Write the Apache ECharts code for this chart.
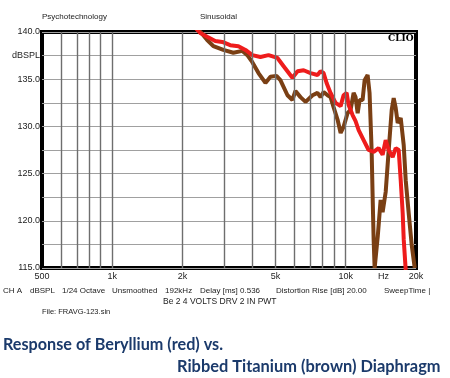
<!DOCTYPE html>
<html>
<head>
<meta charset="utf-8">
<script src="https://cdn.jsdelivr.net/npm/echarts@6/dist/echarts.min.js"></script>
<style>
  html, body { margin: 0; padding: 0; background: #fff; }
  #chart { width: 450px; height: 378px; }
</style>
</head>
<body>
<div id="chart"></div>
<script>
// x ticks (Hz) and their labels
const xTickFreqs = [500, 1000, 2000, 5000, 10000, 14500, 20000]
const xTickLabels = ['500', '1k', '2k', '5k', '10k', 'Hz', '20k']
// vertical grid lines
const gridFreqs = [600, 700, 800, 900, 1000, 2000, 3000, 4000, 5000, 6000, 7000, 8000, 9000, 10000]
// y ticks
const yTickValues = [115, 120, 125, 130, 135, 137.5, 140]
const yTickLabels = ['115.0', '120.0', '125.0', '130.0', '135.0', 'dBSPL', '140.0']

// Beryllium (red)
const redFreq = [2200, 2380, 2550, 2760, 2960, 3200, 3470, 3720, 3980, 4310, 4670, 5100, 5410, 5910, 6220,
  6600, 7070, 7570, 7800, 8040, 8280, 8610, 9050, 9510, 9790, 10090, 10280, 10700, 11020, 11360,
  11930, 12530, 13170, 13830, 14390, 14830, 15280, 15890, 16370, 16860, 17200, 17540, 17720, 18070]
const redDb = [140.8, 139.9, 139.5, 139.05, 138.95, 138.6, 138.5, 138.1, 137.55, 137.35, 137.55, 137.25, 136.4, 135.15, 135.85,
  135.95, 135.65, 135.45, 135.85, 135.65, 134.6, 133.55, 132.5, 132.15, 133.3, 133.55, 132.3, 131.2, 130.55, 129.6,
  128.55, 127.5, 127.3, 127.7, 127.0, 128.55, 127.5, 126.75, 127.7, 127.5, 124.3, 120.8, 118.0, 114.8]

// Ribbed Titanium (brown)
const brownFreq = [2200, 2410, 2550, 2710, 2990, 3300, 3610, 3790, 3980, 4230, 4530, 4760, 5050, 5250, 5630,
  5910, 6090, 6400, 6730, 7210, 7570, 7800, 8040, 8360, 8610, 8870, 9230, 9510, 9790, 10180,
  10490, 10810, 11020, 11250, 11470, 11810, 12050, 12410, 12650, 12910, 13050, 13170, 13300, 13710,
  14110, 14390, 14830, 15280, 15740, 16050, 16370, 16700, 17200, 17720, 18070, 18610, 19170, 19750]
const brownDb = [141.0, 139.9, 139.15, 138.5, 138.1, 137.8, 138.0, 137.55, 136.8, 135.65, 134.6, 135.25, 135.35, 134.9, 133.3,
  132.8, 133.75, 133.1, 132.6, 133.3, 133.55, 133.1, 133.65, 133.3, 133.1, 132.05, 130.7, 129.3, 129.95, 131.4,
  131.75, 133.55, 133.1, 131.4, 132.8, 132.8, 134.9, 135.45, 133.55, 127.5, 122.2, 118.0, 115.0, 118.3,
  122.2, 120.9, 123.05, 127.5, 131.75, 133.0, 131.95, 130.35, 130.9, 128.0, 124.3, 120.8, 117.45, 115.0]

const lg = Math.log10
const toPoints = (fs, ds) => fs.map((f, i) => [lg(f), ds[i]])

const chart = echarts.init(document.getElementById('chart'))

const small = { fill: '#222', fontFamily: 'Liberation Sans, Arial', fontSize: 8 }
const footer = [
  ['CH A', 3], ['dBSPL', 30], ['1/24 Octave', 62], ['Unsmoothed', 112], ['192kHz', 165],
  ['Delay [ms] 0.536', 200], ['Distortion Rise [dB] 20.00', 276], ['SweepTime |', 384]
]

chart.setOption({
  animation: false,
  grid: {
    left: 42, top: 32, right: 34, bottom: 110,
    show: true,
    borderColor: '#000',
    borderWidth: 4
  },
  xAxis: {
    type: 'value',
    min: lg(500),
    max: lg(20000),
    axisLine: { show: false },
    axisTick: { show: false },
    splitLine: { show: false },
    axisLabel: {
      customValues: xTickFreqs.map(lg),
      margin: 4,
      fontSize: 9,
      fontFamily: 'Liberation Sans, Arial',
      color: '#222',
      formatter: v => {
        let best = 0
        xTickFreqs.forEach((f, i) => {
          if (Math.abs(lg(f) - v) < Math.abs(lg(xTickFreqs[best]) - v)) best = i
        })
        return xTickLabels[best]
      }
    }
  },
  yAxis: {
    type: 'value',
    min: 115,
    max: 140,
    interval: 2.5,
    axisLine: { show: false },
    axisTick: { show: false },
    splitLine: { show: true, lineStyle: { color: '#a0a0a0', width: 1.2 } },
    axisLabel: {
      customValues: yTickValues,
      margin: 2,
      fontSize: 9,
      fontFamily: 'Liberation Sans, Arial',
      color: '#222',
      formatter: v => {
        const i = yTickValues.findIndex(t => Math.abs(t - v) < 0.01)
        return i >= 0 ? yTickLabels[i] : ''
      }
    }
  },
  graphic: [
    { type: 'text', left: 42, top: 13, style: Object.assign({}, small, { text: 'Psychotechnology' }) },
    { type: 'text', left: 200, top: 13, style: Object.assign({}, small, { text: 'Sinusoidal' }) },
    { type: 'text', left: 388, top: 34, style: { text: 'CLIO', fill: '#000', fontFamily: 'DejaVu Serif', fontWeight: 'bold', fontSize: 9 } },
    ...footer.map(([t, x]) => ({ type: 'text', left: x, top: 287, style: Object.assign({}, small, { text: t }) })),
    { type: 'text', left: 163, top: 297, style: Object.assign({}, small, { text: 'Be 2 4 VOLTS DRV 2 IN PWT', fontSize: 8.5 }) },
    { type: 'text', left: 42, top: 308, style: Object.assign({}, small, { text: 'File: FRAVG-123.sin', fontSize: 7.5 }) },
    { type: 'text', left: 3, top: 337, style: { text: 'Response of Beryllium (red) vs.', fill: '#1b3a6b', fontFamily: 'Lato', fontWeight: 'bold', fontSize: 16.2 } },
    { type: 'text', left: 177, top: 359, style: { text: 'Ribbed Titanium (brown) Diaphragm', fill: '#1b3a6b', fontFamily: 'Lato', fontWeight: 'bold', fontSize: 16.4 } }
  ],
  series: [
    {
      type: 'line',
      data: [],
      silent: true,
      markLine: {
        silent: true,
        symbol: ['none', 'none'],
        label: { show: false },
        lineStyle: { color: '#6e6e6e', width: 1.4, type: 'solid' },
        data: gridFreqs.map(f => ({ xAxis: lg(f) }))
      }
    },
    {
      name: 'Ribbed Titanium',
      type: 'line',
      data: toPoints(brownFreq, brownDb),
      showSymbol: false,
      lineStyle: { color: '#7a3f14', width: 4 },
      clip: true
    },
    {
      name: 'Beryllium',
      type: 'line',
      data: toPoints(redFreq, redDb),
      showSymbol: false,
      lineStyle: { color: '#ee1c1c', width: 4 },
      clip: true
    }
  ]
})
</script>
</body>
</html>
